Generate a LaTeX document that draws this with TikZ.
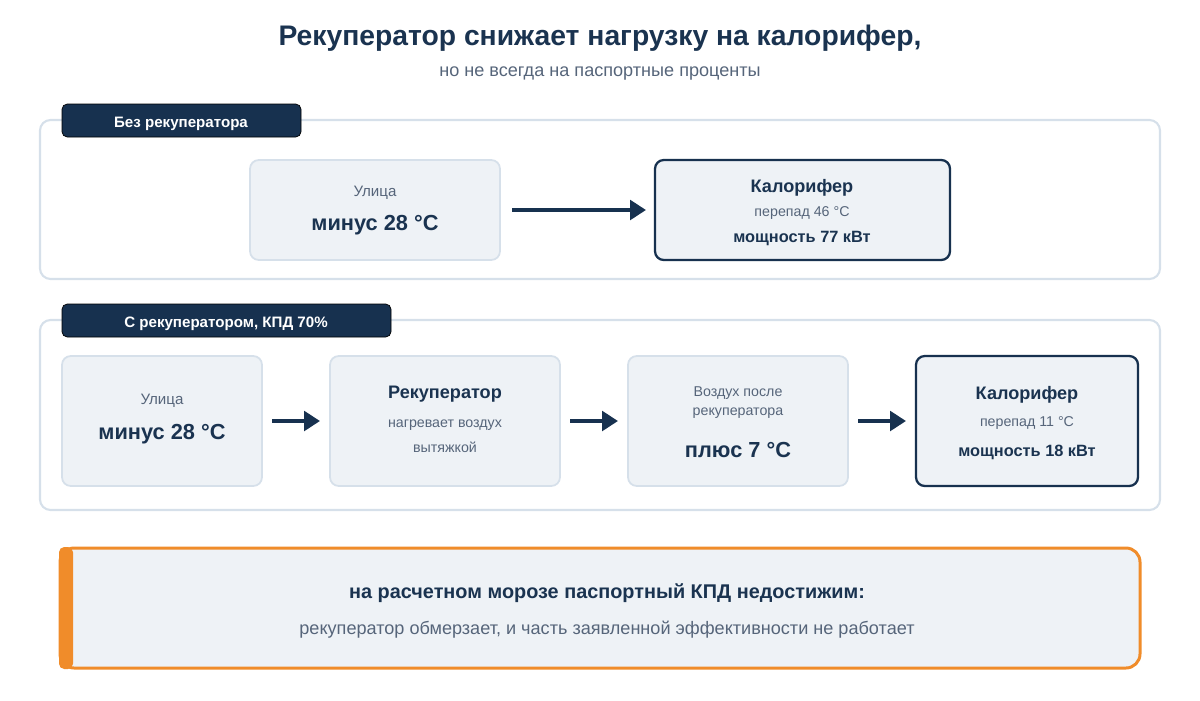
\documentclass[tikz,border=0pt]{standalone}
\usepackage{fontspec}
\setmainfont{Liberation Sans}
\usetikzlibrary{arrows.meta}
\definecolor{navy}{HTML}{17314F}
\definecolor{txt}{HTML}{1A3350}
\definecolor{gr}{HTML}{56657A}
\definecolor{bfill}{HTML}{EEF2F6}
\definecolor{bline}{HTML}{D6E0EA}
\definecolor{orng}{HTML}{F08C2A}
\newcommand{\fs}[1]{\fontsize{#1}{#1}\selectfont}
\tikzset{
 panel/.style={draw=bline,line width=1.2pt,rounded corners=6pt,fill=white},
 tag/.style={fill=navy,rounded corners=3pt},
 box/.style={draw=bline,line width=1pt,fill=bfill,rounded corners=5pt},
 hbox/.style={draw=navy,line width=1.3pt,fill=bfill,rounded corners=5pt},
 arr/.style={draw=navy,line width=2.3pt,-{Triangle[length=9pt,width=11pt]}},
 t/.style={inner sep=0pt,anchor=center,yshift=-0.05cm},
}
\begin{document}
\begin{tikzpicture}[x=0.02cm,y=-0.02cm]
\useasboundingbox (0,0) rectangle (1200,700);
\node[t,text=txt,font=\fs{16.1}\bfseries] (title) at (600,36) {Рекуператор снижает нагрузку на калорифер,};
\node[t,text=gr,font=\fs{10.3}] (sub) at (600,71) {но не всегда на паспортные проценты};
% panel 1
\draw[panel] (40,120) rectangle (1160,279);
\draw[tag] (62,104) rectangle (301,137);
\node[t,text=white,font=\fs{8.6}\bfseries] (tag1) at (181,121) {Без рекуператора};
\draw[box] (250,160) rectangle (500,260);
\node[t,text=gr,font=\fs{8.6}] (u1) at (375,190) {Улица};
\node[t,text=txt,font=\fs{12.4}\bfseries] (m1) at (375,223) {минус 28 °C};
\draw[hbox] (655,160) rectangle (950,260);
\node[t,text=txt,font=\fs{10.3}\bfseries] (kt1) at (802,185) {Калорифер};
\node[t,text=gr,font=\fs{8.1}] (kp1) at (802,211) {перепад 46 °C};
\node[t,text=txt,font=\fs{9.3}\bfseries] (km1) at (802,236) {мощность 77 кВт};
\coordinate (a1s) at (512,210); \coordinate (a1e) at (646,210);
\draw[arr] (a1s) -- (a1e);
% panel 2
\draw[panel] (40,320) rectangle (1160,510);
\draw[tag] (62,304) rectangle (391,337);
\node[t,text=white,font=\fs{8.6}\bfseries] (tag2) at (226,321) {С рекуператором, КПД 70\%};
\draw[box] (62,356) rectangle (262,486);
\node[t,text=gr,font=\fs{8.6}] (u2) at (162,398) {Улица};
\node[t,text=txt,font=\fs{12.4}\bfseries] (m2) at (162,432) {минус 28 °C};
\draw[box] (330,356) rectangle (560,486);
\node[t,text=txt,font=\fs{10.3}\bfseries] (r) at (445,392) {Рекуператор};
\node[t,text=gr,font=\fs{8.1}] (r1) at (445,423) {нагревает воздух};
\node[t,text=gr,font=\fs{8.1}] (r2) at (445,445) {вытяжкой};
\draw[box] (628,356) rectangle (848,486);
\node[t,text=gr,font=\fs{8.1}] (v1) at (738,391) {Воздух после};
\node[t,text=gr,font=\fs{8.1}] (v2) at (738,411) {рекуператора};
\node[t,text=txt,font=\fs{12.4}\bfseries] (v3) at (738,447) {плюс 7 °C};
\draw[hbox] (916,356) rectangle (1138,486);
\node[t,text=txt,font=\fs{10.3}\bfseries] (kt2) at (1027,392) {Калорифер};
\node[t,text=gr,font=\fs{8.1}] (kp2) at (1027,421) {перепад 11 °C};
\node[t,text=txt,font=\fs{9.3}\bfseries] (km2) at (1027,450) {мощность 18 кВт};
\coordinate (s1) at (272,421); \coordinate (e1) at (320,421);
\coordinate (s2) at (570,421); \coordinate (e2) at (618,421);
\coordinate (s3) at (858,421); \coordinate (e3) at (906,421);
\draw[arr] (s1) -- (e1); \draw[arr] (s2) -- (e2); \draw[arr] (s3) -- (e3);
% bottom
\draw[draw=orng,line width=1.7pt,fill=bfill,rounded corners=8pt] (60,548) rectangle (1140,668);
\fill[orng,rounded corners=3pt] (59,547) rectangle (73,669);
\node[t,text=txt,font=\fs{11.3}\bfseries] (n1) at (607,591) {на расчетном морозе паспортный КПД недостижим:};
\node[t,text=gr,font=\fs{10.3}] (n2) at (607,627) {рекуператор обмерзает, и часть заявленной эффективности не работает};
\end{tikzpicture}
\end{document}
